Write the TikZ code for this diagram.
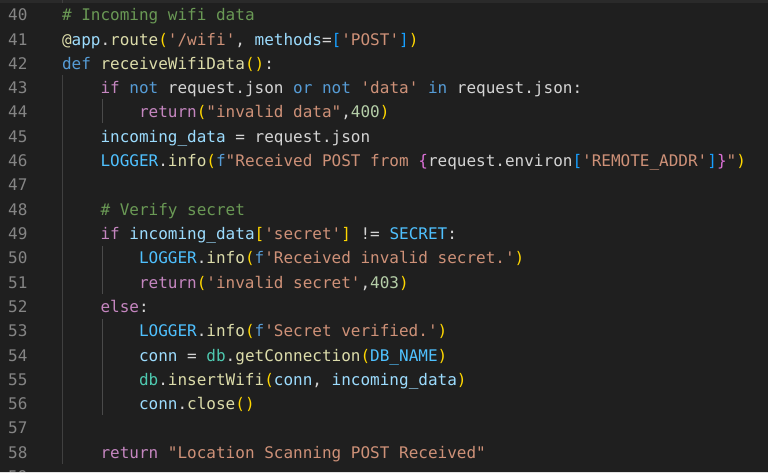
\documentclass[tikz,border=0pt]{standalone}
\usepackage{fontspec}
\setmonofont{DejaVu Sans Mono}[WordSpace={1,0,0}]
\definecolor{bg}{HTML}{1F1F1F}
\definecolor{topbar}{HTML}{2A2A2A}
\definecolor{plain}{HTML}{D4D4D4}
\definecolor{lnum}{HTML}{858585}
\definecolor{guide}{HTML}{404040}
\definecolor{guideb}{HTML}{4A4A4A}
\definecolor{ckwp}{HTML}{C586C0}
\definecolor{ckwb}{HTML}{569CD6}
\definecolor{cfn}{HTML}{DCDCAA}
\definecolor{cstr}{HTML}{CE9178}
\definecolor{cvar}{HTML}{9CDCFE}
\definecolor{ccon}{HTML}{4FC1FF}
\definecolor{cmod}{HTML}{4EC9B0}
\definecolor{cnum}{HTML}{B5CEA8}
\definecolor{cbry}{HTML}{FFD700}
\definecolor{cbrp}{HTML}{DA70D6}
\definecolor{cbrb}{HTML}{179FFF}
\definecolor{ccmt}{HTML}{6A9955}
\definecolor{bottomstrip}{HTML}{E2E2E2}
\newcommand\kwP[1]{\textcolor{ckwp}{#1}}
\newcommand\kwB[1]{\textcolor{ckwb}{#1}}
\newcommand\fnY[1]{\textcolor{cfn}{#1}}
\newcommand\strO[1]{\textcolor{cstr}{#1}}
\newcommand\varL[1]{\textcolor{cvar}{#1}}
\newcommand\cnst[1]{\textcolor{ccon}{#1}}
\newcommand\modT[1]{\textcolor{cmod}{#1}}
\newcommand\numG[1]{\textcolor{cnum}{#1}}
\newcommand\brY[1]{\textcolor{cbry}{#1}}
\newcommand\brP[1]{\textcolor{cbrp}{#1}}
\newcommand\brB[1]{\textcolor{cbrb}{#1}}
\newcommand\cmtG[1]{\textcolor{ccmt}{#1}}
\begin{document}
\begin{tikzpicture}[x=1pt,y=-1pt,
  codeline/.style={anchor=base west,inner sep=0pt,outer sep=0pt,text=plain,
    font=\fontsize{16}{19}\selectfont\ttfamily\frenchspacing},
  numline/.style={anchor=base east,inner sep=0pt,outer sep=0pt,text=lnum,
    font=\fontsize{16}{19}\selectfont\ttfamily},
  guideline/.style={draw=guide,line width=1pt},
  guidelineb/.style={draw=guideb,line width=1pt}]
\useasboundingbox (0,0) rectangle (768,473);
\clip (0,0) rectangle (768,473);
\fill[bg] (0,0) rectangle (768,473);
\fill[topbar] (0,0) rectangle (768,3);
% indent guides
\draw[guideline] (62.5,0) -- (62.5,3);
\draw[guideline] (62.5,75) -- (62.5,464);
\draw[guidelineb] (102.5,99) -- (102.5,123);
\draw[guidelineb] (102.5,246) -- (102.5,294);
\draw[guidelineb] (102.5,319) -- (102.5,415);
% line numbers
\foreach \n in {40,...,59}{
  \node[numline] (n\n) at (27.5,{20.8+(\n-40)*24.3}) {\n};
}
% code
\def\cw{9.63}
\node[codeline] (l40) at (62,20.8) {\cmtG{\# Incoming wifi data}};
\node[codeline] (l41) at (62,45.1) {\fnY{@}\varL{app}.\fnY{route}\brY{(}\strO{'/wifi'}, \varL{methods}=\brB{[}\strO{'POST'}\brB{]}\brY{)}};
\node[codeline] (l42) at (62,69.4) {\kwB{def} \fnY{receiveWifiData}\brY{()}:};
\node[codeline] (l43) at (62+4*\cw,93.7) {\kwP{if} \kwB{not} request.json \kwB{or} \kwB{not} \strO{'data'} \kwB{in} request.json:};
\node[codeline] (l44) at (62+8*\cw,118.0) {\kwP{return}\brY{(}\strO{"invalid data"},\numG{400}\brY{)}};
\node[codeline] (l45) at (62+4*\cw,142.3) {\varL{incoming\_data} = request.json};
\node[codeline] (l46) at (62+4*\cw,166.6) {\cnst{LOGGER}.\fnY{info}\brY{(}\kwB{f}\strO{"Received POST from }\brP{\{}request.environ\brB{[}\strO{'REMOTE\_ADDR'}\brB{]}\brP{\}}\strO{"}\brY{)}};
\node[codeline] (l48) at (62+4*\cw,215.2) {\cmtG{\# Verify secret}};
\node[codeline] (l49) at (62+4*\cw,239.5) {\kwP{if} \varL{incoming\_data}\brY{[}\strO{'secret'}\brY{]} != \cnst{SECRET}:};
\node[codeline] (l50) at (62+8*\cw,263.8) {\cnst{LOGGER}.\fnY{info}\brY{(}\kwB{f}\strO{'Received invalid secret.'}\brY{)}};
\node[codeline] (l51) at (62+8*\cw,288.1) {\kwP{return}\brY{(}\strO{'invalid secret'},\numG{403}\brY{)}};
\node[codeline] (l52) at (62+4*\cw,312.4) {\kwP{else}:};
\node[codeline] (l53) at (62+8*\cw,336.7) {\cnst{LOGGER}.\fnY{info}\brY{(}\kwB{f}\strO{'Secret verified.'}\brY{)}};
\node[codeline] (l54) at (62+8*\cw,361.0) {\varL{conn} = \modT{db}.\fnY{getConnection}\brY{(}\cnst{DB\_NAME}\brY{)}};
\node[codeline] (l55) at (62+8*\cw,385.3) {\modT{db}.\fnY{insertWifi}\brY{(}\varL{conn}, \varL{incoming\_data}\brY{)}};
\node[codeline] (l56) at (62+8*\cw,409.6) {\varL{conn}.\fnY{close}\brY{()}};
\node[codeline] (l58) at (62+4*\cw,458.2) {\kwP{return} \strO{"Location Scanning POST Received"}};
\fill[bottomstrip] (0,471.6) rectangle (768,473);
\end{tikzpicture}
\end{document}
